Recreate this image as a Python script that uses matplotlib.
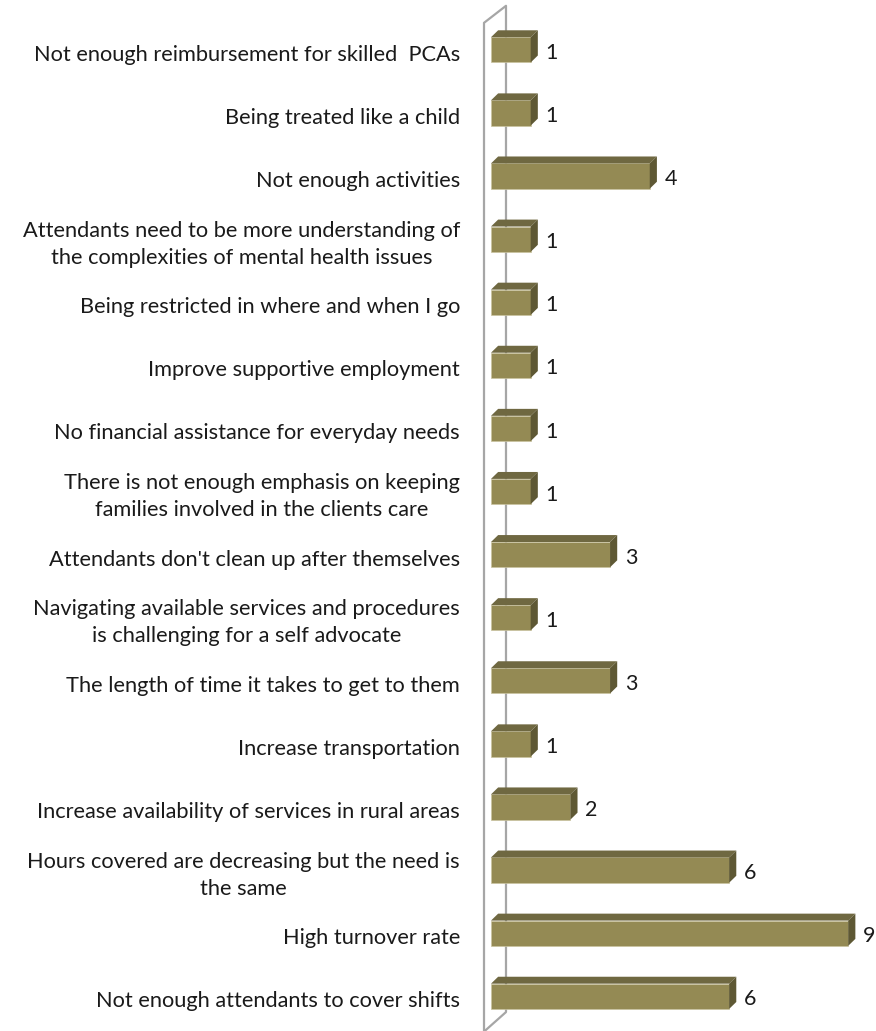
import numpy as np
import matplotlib.pyplot as plt
from matplotlib.patches import Polygon

plt.rcParams["font.family"] = ["Lato", "DejaVu Sans"]

labels = [
    "Not enough reimbursement for skilled  PCAs",
    "Being treated like a child",
    "Not enough activities",
    "Attendants need to be more understanding of\nthe complexities of mental health issues",
    "Being restricted in where and when I go",
    "Improve supportive employment",
    "No financial assistance for everyday needs",
    "There is not enough emphasis on keeping\nfamilies involved in the clients care",
    "Attendants don't clean up after themselves",
    "Navigating available services and procedures\nis challenging for a self advocate",
    "The length of time it takes to get to them",
    "Increase transportation",
    "Increase availability of services in rural areas",
    "Hours covered are decreasing but the need is\nthe same",
    "High turnover rate",
    "Not enough attendants to cover shifts",
]
values = [1, 1, 4, 1, 1, 1, 1, 1, 3, 1, 3, 1, 2, 6, 9, 6]

front_col = "#948A54"
top_col = "#6F6841"
side_col = "#5E5834"
wall_col = "#A6A6A6"

fig = plt.figure(figsize=(8.76, 10.31), dpi=100)
ax = fig.add_axes([0, 0, 1, 1])
ax.set_xlim(-12.37, 9.70)
ax.set_ylim(15.55, -0.79)
ax.axis("off")

y = np.arange(len(values))
h = 0.40
dx, dy = 0.18, 0.11  # depth of the 3d faces

# the slanted wall behind the category axis
ax.plot([-0.176, -0.176, 0.378, 0.378, -0.176],
        [15.60, -0.428, -0.698, 15.25, 15.56],
        color=wall_col, lw=1.6, clip_on=False, zorder=1)

ax.barh(y, values, height=h, left=0, color=front_col,
        edgecolor="#C9C3A0", linewidth=0.5, zorder=3)
for yi, v in zip(y, values):
    top = [(0, yi - h / 2), (v, yi - h / 2), (v + dx, yi - h / 2 - dy), (dx, yi - h / 2 - dy)]
    side = [(v, yi - h / 2), (v + dx, yi - h / 2 - dy), (v + dx, yi + h / 2 - dy), (v, yi + h / 2)]
    ax.add_patch(Polygon(top, closed=True, facecolor=top_col, edgecolor="none", zorder=3))
    ax.add_patch(Polygon(side, closed=True, facecolor=side_col, edgecolor="none", zorder=3))
    ax.text(v + dx + 0.2, yi + 0.05, str(v), ha="left", va="center",
            fontsize=15.5, color="#1A1A1A")

for yi, lab in zip(y, labels):
    ax.text(-0.78, yi + 0.08, lab, ha="right", va="center", multialignment="center",
            fontsize=15.7, color="#1A1A1A", linespacing=1.45)

fig.savefig("out.png", dpi=100)
